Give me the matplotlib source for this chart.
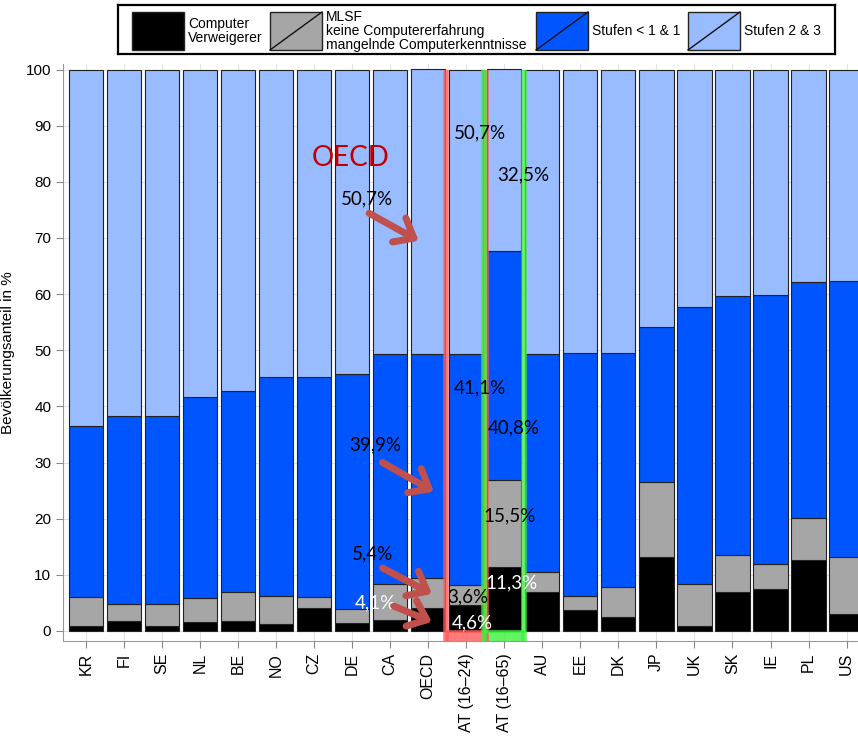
import numpy as np
import matplotlib as mpl
mpl.use("Agg")
import matplotlib.pyplot as plt
from matplotlib.patches import Rectangle

plt.rcParams['font.family'] = ['Liberation Sans', 'DejaVu Sans']

# data: share of population (%) per country, four stacked groups
laender = ['KR', 'FI', 'SE', 'NL', 'BE', 'NO', 'CZ', 'DE', 'CA', 'OECD',
           'AT (16\u201324)', 'AT (16\u201365)', 'AU', 'EE', 'DK', 'JP', 'UK',
           'SK', 'IE', 'PL', 'US']
verweigerer = [0.8, 1.8, 0.8, 1.6, 1.8, 1.2, 4.0, 1.4, 1.9, 4.1,
               4.6, 11.3, 7.0, 3.8, 2.5, 13.1, 0.9, 7.0, 7.5, 12.6, 3.0]
mlsf = [5.2, 3.0, 4.0, 4.2, 5.2, 5.1, 2.1, 2.5, 6.4, 5.4,
        3.6, 15.5, 3.5, 2.5, 5.4, 13.4, 7.4, 6.6, 4.5, 7.5, 10.2]
stufen_01 = [30.5, 33.5, 33.5, 35.9, 35.8, 38.9, 39.2, 41.9, 41.0, 39.9,
             41.1, 40.8, 38.9, 43.3, 41.7, 27.7, 49.4, 46.1, 47.8, 42.0, 49.2]
stufen_23 = [63.5, 61.7, 61.7, 58.3, 57.2, 54.8, 54.7, 54.2, 50.7, 50.7,
             50.7, 32.5, 50.6, 50.4, 50.4, 45.8, 42.3, 40.3, 40.2, 37.9, 37.6]

farben = ['#000000', '#a6a6a6', '#0055ff', '#99bbff']
schichten = [verweigerer, mlsf, stufen_01, stufen_23]

fig = plt.figure(figsize=(8.58, 7.38), dpi=100)
ax = fig.add_axes([63/858, 1 - 641/738, 1 - 63/858, (641 - 64)/738])

x = np.arange(len(laender))
unten = np.zeros(len(laender))
for werte, farbe in zip(schichten, farben):
    ax.bar(x, werte, bottom=unten, width=0.9, color=farbe,
           edgecolor='#222222', linewidth=0.8, zorder=2)
    unten += np.array(werte)

ax.set_xlim(-0.6, 20.3)
ax.set_ylim(-1.8, 101)
ax.set_yticks(np.arange(0, 101, 10))
ax.set_xticks(x)
ax.set_xticklabels(laender, rotation=90, fontsize=11.5)
ax.tick_params(axis='y', labelsize=11, color='#888888', length=5)
ax.tick_params(axis='x', color='#888888', length=5)
ax.grid(True, color='#e2e2e2', linewidth=0.8, zorder=0)
ax.set_axisbelow(True)
for s in ['top', 'right']:
    ax.spines[s].set_visible(False)
for s in ['left', 'bottom']:
    ax.spines[s].set_color('#999999')
ax.set_ylabel('Bevölkerungsanteil in %', fontsize=11, labelpad=8)

# AT highlight: filled strip below zero plus vertical edge lines
for pos, farbe in [(10, '#ff5a5a'), (11, '#3cf03c')]:
    ax.add_patch(Rectangle((pos - 0.53, -1.8), 1.06, 1.8, facecolor=farbe,
                           alpha=0.8, edgecolor='none', zorder=1))
    for xe in [pos - 0.53, pos + 0.53]:
        ax.plot([xe, xe], [-1.8, 100], color=farbe, alpha=0.8,
                linewidth=4, zorder=3, solid_capstyle='butt')
    ax.plot([pos - 0.53, pos + 0.53], [0, 0], color=farbe, alpha=0.8,
            linewidth=2, zorder=3)

def pct(v):
    return f'{v:.1f}%'.replace('.', ',')

i_oecd = laender.index('OECD')
i_j = 10
i_a = 11
tf = ['Lato', 'DejaVu Sans']
ax.text(6.95, 84.3, 'OECD', color='#c00000', fontsize=20, family=tf,
        ha='center', va='center', zorder=5)

labels = [
    (10.35, 88.8, pct(stufen_23[i_j]), 'black'),
    (11.5, 81.2, pct(stufen_23[i_a]), 'black'),
    (7.4, 77.0, pct(stufen_23[i_oecd]), 'black'),
    (10.35, 43.3, pct(stufen_01[i_j]), 'black'),
    (11.25, 36.2, pct(stufen_01[i_a]), 'black'),
    (7.6, 33.2, pct(stufen_01[i_oecd]), 'black'),
    (11.15, 20.5, pct(mlsf[i_a]), 'black'),
    (7.55, 13.7, pct(mlsf[i_oecd]), 'black'),
    (7.6, 5.0, pct(verweigerer[i_oecd]), 'white'),
    (10.05, 6.1, pct(mlsf[i_j]), 'black'),
    (11.2, 8.6, pct(verweigerer[i_a]), 'white'),
    (10.15, 1.4, pct(verweigerer[i_j]), 'white'),
]
for lx, ly, txt, c in labels:
    ax.text(lx, ly, txt, color=c, fontsize=13.5, family=tf,
            ha='center', va='center', zorder=5)

pfeile = [((7.45, 74.4), (8.75, 69.5)),
          ((7.8, 30.0), (9.15, 24.8)),
          ((7.8, 11.2), (9.1, 6.6)),
          ((8.1, 4.4), (9.1, 1.6))]
for start, ende in pfeile:
    ax.annotate('', xy=ende, xytext=start, zorder=6,
                arrowprops=dict(arrowstyle='->,head_length=0.55,head_width=0.45',
                                color='#c0504d', lw=5, mutation_scale=22,
                                shrinkA=0, shrinkB=0))

# legend drawn by hand in its own axes (pixel units)
lg = fig.add_axes([118/858, 1 - 54/738, (835 - 118)/858, 49/738])
lg.set_xlim(118, 835)
lg.set_ylim(54, 5)
lg.set_xticks([])
lg.set_yticks([])
for s in lg.spines.values():
    s.set_linewidth(1.6)
eintraege = [(132, farben[0], 'Computer\nVerweigerer', False),
             (270, farben[1], 'MLSF\nkeine Computererfahrung\nmangelnde Computerkenntnisse', True),
             (536, farben[2], 'Stufen < 1 & 1', True),
             (688, farben[3], 'Stufen 2 & 3', True)]
for x0, farbe, txt, diag in eintraege:
    lg.add_patch(Rectangle((x0, 12), 52, 38, facecolor=farbe,
                           edgecolor='#222222', linewidth=1))
    if diag:
        lg.plot([x0, x0 + 52], [50, 12], color='#111111', linewidth=1)
    lg.text(x0 + 56, 31, txt, fontsize=10, ha='left', va='center',
            linespacing=1.0)

plt.savefig('out.png', dpi=100)
